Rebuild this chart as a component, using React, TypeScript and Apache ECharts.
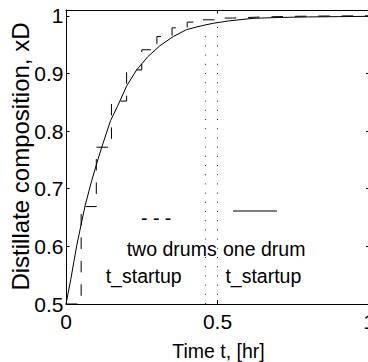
import React, { useEffect, useRef } from 'react';
import * as echarts from 'echarts';

const FONT = 'Liberation Sans, Arial, Helvetica, sans-serif';

// axis ticks
const xTickInterval = 0.5;
const yTickInterval = 0.1;
const xRange = [0, 1];
const yRange = [0.5, 1.01];

// one drum (solid curve): time [hr] and distillate composition
const oneDrumTime = [0, 0.0155, 0.0353, 0.0627, 0.0848, 0.1067, 0.118, 0.147, 0.17, 0.2, 0.233, 0.27, 0.31, 0.354, 0.398, 0.442, 0.486, 0.536, 0.617, 0.7, 0.8, 0.9, 1.0];
const oneDrumXD = [0.5, 0.542, 0.601, 0.67, 0.714, 0.753, 0.772, 0.818, 0.843, 0.878, 0.906, 0.929, 0.948, 0.964, 0.976, 0.982, 0.987, 0.991, 0.9955, 0.997, 0.998, 0.9985, 0.999];

// two drums (dashed staircase)
const twoDrumTime = [0, 0.05, 0.1, 0.15, 0.2, 0.25, 0.3, 0.35, 0.4, 0.45, 0.5, 0.55, 0.6, 0.65, 0.7, 0.75, 0.8, 0.85, 0.9, 0.95, 1.0];
const twoDrumXD = [0.5, 0.669, 0.772, 0.852, 0.906, 0.941, 0.964, 0.979, 0.989, 0.993, 0.996, 0.997, 0.998, 0.9985, 0.999, 0.9993, 0.9995, 0.9997, 0.9998, 0.9999, 0.9999];

// startup times (dotted verticals)
const startupTimes = [0.46, 0.5];
const startupBottom = [0.5, 0.5];
const startupTop = [0.971, 0.989];

const zip = (a: number[], b: number[]) => a.map((v, i) => [v, b[i]]);

const labelFmt = (v: number) => {
  const r = Math.round(v * 10);
  return Math.abs(v * 10 - r) < 1e-6 ? String(r / 10) : '';
};

const baseAxisLine = { show: true, onZero: false, lineStyle: { color: '#000', width: 1 } };

const option: any = {
  animation: false,
  backgroundColor: '#fff',
  grid: { left: 66, top: 10, width: 303, height: 294, containLabel: false, outerBoundsMode: 'none' },
  xAxis: [
    {
      type: 'value', position: 'bottom', min: xRange[0], max: xRange[1], interval: xTickInterval,
      axisLine: baseAxisLine,
      axisTick: { show: true, inside: true, length: 4, lineStyle: { color: '#000', width: 1 } },
      axisLabel: { show: true, margin: 6.5, fontSize: 21, color: '#000', fontFamily: FONT, formatter: (v: number) => String(v) },
      splitLine: { show: false },
    },
    {
      type: 'value', position: 'top', min: xRange[0], max: xRange[1], interval: xTickInterval,
      axisLine: baseAxisLine,
      axisTick: { show: true, inside: true, length: 3.5, lineStyle: { color: '#000', width: 1 } },
      axisLabel: { show: false },
      splitLine: { show: false },
    },
  ],
  yAxis: [
    {
      type: 'value', position: 'left', min: yRange[0], max: yRange[1], interval: yTickInterval,
      axisLine: baseAxisLine,
      axisTick: { show: true, inside: true, length: 3.5, lineStyle: { color: '#000', width: 1 } },
      axisLabel: { show: true, margin: 2.5, fontSize: 21, color: '#000', fontFamily: FONT, formatter: labelFmt },
      splitLine: { show: false },
    },
    {
      type: 'value', position: 'right', min: yRange[0], max: yRange[1], interval: yTickInterval,
      axisLine: baseAxisLine,
      axisTick: { show: true, inside: true, length: 3, lineStyle: { color: '#000', width: 1 } },
      axisLabel: { show: false },
      splitLine: { show: false },
    },
  ],
  series: [
    {
      name: 'one drum', type: 'line', xAxisIndex: 0, yAxisIndex: 0,
      data: zip(oneDrumTime, oneDrumXD), showSymbol: false, symbol: 'none', smooth: false,
      lineStyle: { color: '#000', width: 1 }, z: 3,
    },
    {
      name: 'two drums', type: 'line', xAxisIndex: 0, yAxisIndex: 0, step: 'end',
      data: zip(twoDrumTime, twoDrumXD), showSymbol: false, symbol: 'none',
      lineStyle: { color: '#000', width: 1, type: [11.5, 11.9] }, z: 2,
    },
    ...startupTimes.map((t, i) => ({
      name: 'startup ' + i, type: 'line', xAxisIndex: 0, yAxisIndex: 0,
      data: [[t, startupBottom[i]], [t, startupTop[i]]], showSymbol: false, symbol: 'none',
      lineStyle: { color: '#222', width: 1, type: [1, 8.2] }, z: 1,
    })),
  ],
  graphic: [
    {
      type: 'text', x: 20, y: 156.5, rotation: Math.PI / 2,
      style: { text: 'Distillate composition, xD', fontSize: 24, fontFamily: FONT, fill: '#000', align: 'center', verticalAlign: 'middle', textAlign: 'center', textVerticalAlign: 'middle' },
    },
    {
      type: 'text', x: 218.5, y: 351,
      style: { text: 'Time t, [hr]', fontSize: 19.5, fontFamily: FONT, fill: '#000', align: 'center', verticalAlign: 'middle', textAlign: 'center', textVerticalAlign: 'middle' },
    },
    {
      type: 'text', x: 141, y: 217.6,
      style: { text: '- - -', fontSize: 19.5, fontFamily: FONT, fill: '#000', align: 'left', verticalAlign: 'middle', textAlign: 'left', textVerticalAlign: 'middle' },
    },
    {
      type: 'line', shape: { x1: 233, y1: 211, x2: 277, y2: 211 },
      style: { stroke: '#000', lineWidth: 1.2 },
    },
    {
      type: 'text', x: 126.7, y: 249.2,
      style: { text: 'two drums', fontSize: 19.5, fontFamily: FONT, fill: '#000', align: 'left', verticalAlign: 'middle', textAlign: 'left', textVerticalAlign: 'middle' },
    },
    {
      type: 'text', x: 223, y: 249.2,
      style: { text: 'one drum', fontSize: 19.5, fontFamily: FONT, fill: '#000', align: 'left', verticalAlign: 'middle', textAlign: 'left', textVerticalAlign: 'middle' },
    },
    {
      type: 'text', x: 105.7, y: 276.2,
      style: { text: 't_startup', fontSize: 19.5, fontFamily: FONT, fill: '#000', align: 'left', verticalAlign: 'middle', textAlign: 'left', textVerticalAlign: 'middle' },
    },
    {
      type: 'text', x: 225.4, y: 276.2,
      style: { text: 't_startup', fontSize: 19.5, fontFamily: FONT, fill: '#000', align: 'left', verticalAlign: 'middle', textAlign: 'left', textVerticalAlign: 'middle' },
    },
  ],
};

export default function App() {
  const ref = useRef<HTMLDivElement>(null);
  useEffect(() => {
    if (!ref.current) return;
    const chart = echarts.init(ref.current, null, { renderer: 'svg' });
    chart.setOption(option);
    return () => chart.dispose();
  }, []);
  return (
    <div
      ref={ref}
      style={{ position: 'fixed', left: 0, top: 0, width: 368, height: 362, background: '#fff' }}
    />
  );
}
